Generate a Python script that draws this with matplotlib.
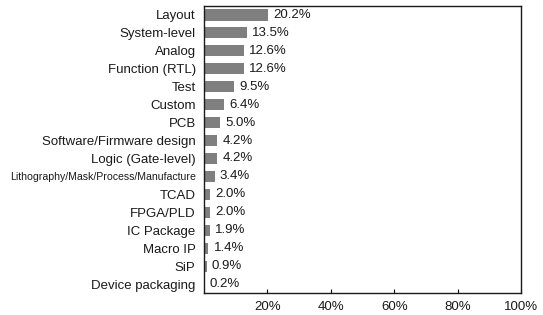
import matplotlib
matplotlib.use('Agg')
import matplotlib.pyplot as plt

categories = ['Layout', 'System-level', 'Analog', 'Function (RTL)', 'Test', 'Custom', 'PCB',
              'Software/Firmware design', 'Logic (Gate-level)',
              'Lithography/Mask/Process/Manufacture', 'TCAD', 'FPGA/PLD', 'IC Package',
              'Macro IP', 'SiP', 'Device packaging']
values = [20.2, 13.5, 12.6, 12.6, 9.5, 6.4, 5.0, 4.2, 4.2, 3.4, 2.0, 2.0, 1.9, 1.4, 0.9, 0.2]
xticks = [20, 40, 60, 80, 100]

plt.rcParams['font.family'] = ['Liberation Sans', 'DejaVu Sans']

fig = plt.figure(figsize=(5.43, 3.15), dpi=100)
ax = fig.add_axes([204 / 543, 1 - 293 / 315, (521 - 204) / 543, (293 - 6) / 315])

pos = list(range(len(categories)))
ax.barh(pos, values, height=0.62, color='#7f7f7f')
for p, v in zip(pos, values):
    ax.text(v + 1.6, p, f'{v:.1f}%', va='center', ha='left', fontsize=9.5, color='#1a1a1a')

ax.set_xlim(0, 100)
ax.set_ylim(len(categories) - 0.5, -0.5)
ax.set_yticks(pos)
ax.set_yticklabels(categories, fontsize=9.5, color='#1a1a1a')
for lbl in ax.get_yticklabels():
    if lbl.get_text().startswith('Lithography'):
        lbl.set_family(['Liberation Sans Narrow', 'Liberation Sans'])
        lbl.set_fontsize(7.6)
ax.tick_params(axis='y', length=0, pad=6)
ax.set_xticks(xticks)
ax.set_xticklabels([f'{t}%' for t in xticks], fontsize=9.5, color='#1a1a1a')
ax.tick_params(axis='x', direction='in', length=3, width=0.8, pad=6)
for s in ax.spines.values():
    s.set_linewidth(1.0)
    s.set_color('#1a1a1a')

fig.savefig('out.png', dpi=100)
